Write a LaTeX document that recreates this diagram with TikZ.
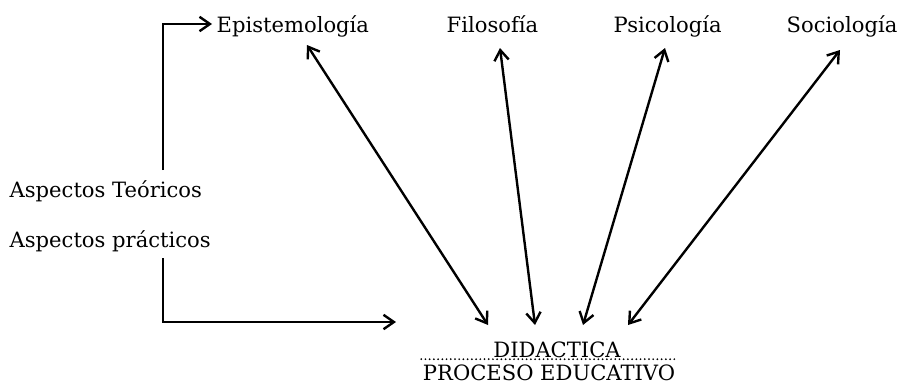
\documentclass[tikz,border=0pt]{standalone}
\usepackage{fontspec}
\setmainfont{DejaVu Serif}
\usetikzlibrary{arrows.meta}
\begin{document}
\begin{tikzpicture}[lbl/.style={font=\fontsize{15}{18}\selectfont, inner sep=1pt}, arr/.style={line width=1.7pt, -{Straight Barb[length=2.6mm, width=3.6mm]}}, darr/.style={line width=1.7pt, {Straight Barb[length=2.6mm, width=3.6mm]}-{Straight Barb[length=2.6mm, width=3.6mm]}}]
\useasboundingbox (0,0) rectangle (22.65,9.6);
\node[lbl, anchor=base west] (epi) at (5.375,8.8) {Epistemología};
\node[lbl, anchor=base west] (fil) at (11.125,8.8) {Filosofía};
\node[lbl, anchor=base west] (psi) at (15.3,8.8) {Psicología};
\node[lbl, anchor=base west] (soc) at (19.625,8.8) {Sociología};
\node[lbl, anchor=base west] (teo) at (0.2,4.675) {Aspectos Teóricos};
\node[lbl, anchor=base west] (pra) at (0.2,3.425) {Aspectos prácticos};
\node[lbl, anchor=base] (did) at (13.925,0.675) {DIDACTICA};
\node[lbl, anchor=base] (proc) at (13.725,0.08) {PROCESO EDUCATIVO};
\coordinate (up) at (4.075,5.35);
\coordinate (down) at (4.075,3.15);
\coordinate (tip) at (9.9,1.55);
\draw[arr] (up) |- ([shift={(-0.075,0.2)}]epi.base west);
\draw[arr] (down) |- (tip);
\draw[darr] ([shift={(2.3,-0.325)}]epi.base west) -- ([shift={(-1.725,0.8)}]did.base);
\draw[darr] ([shift={(1.375,-0.4)}]fil.base west) -- ([shift={(-0.55,0.8)}]did.base);
\draw[darr] ([shift={(1.325,-0.4)}]psi.base west) -- ([shift={(0.65,0.8)}]did.base);
\draw[darr] ([shift={(1.375,-0.45)}]soc.base west) -- ([shift={(1.775,0.8)}]did.base);
\draw[line width=1.4pt, line cap=round, dash pattern=on 0pt off 3pt] ([yshift=0.54cm]proc.base west) -- ([yshift=0.54cm]proc.base east);
\end{tikzpicture}
\end{document}
